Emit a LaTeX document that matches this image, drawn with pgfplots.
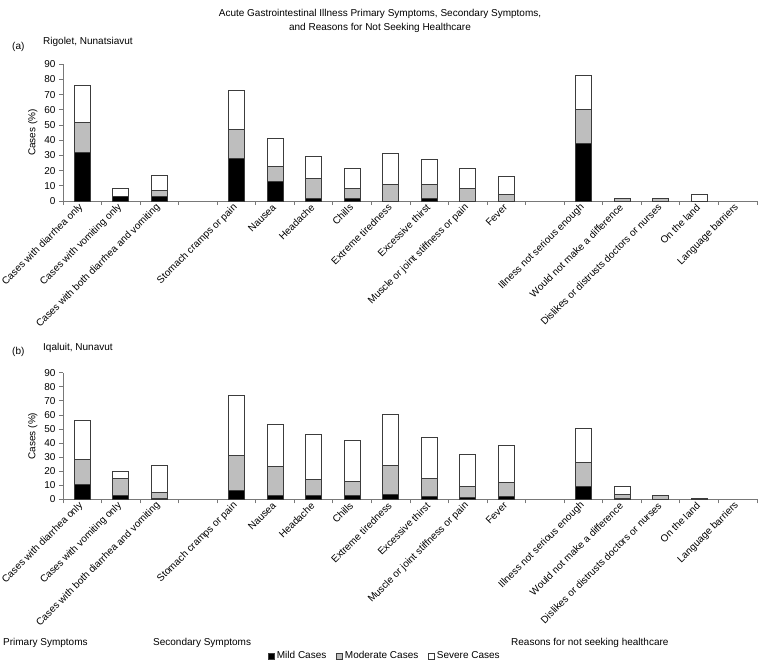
\documentclass[border=0pt]{standalone}
\usepackage{fontspec}
\setmainfont{Liberation Sans}
\usepackage{pgfplots}
\usepackage{pgfplotstable}
\pgfplotsset{compat=1.18}

\definecolor{modgray}{RGB}{190,190,190}
\definecolor{edgec}{RGB}{60,60,60}
\definecolor{axisc}{RGB}{120,120,120}

\pgfplotstableread{
x mild mod sev
0 32 20 24
1 3 0 5.5
2 3 4 9.5
4 28 19 26
5 13 10 18
6 1.5 13 14.5
7 1.5 6.5 13.5
8 0 11 20
9 1.5 9.5 16.5
10 0 8 13.5
11 0 4.5 11.5
13 38 22 22.5
14 0 1.5 0
15 0 1.5 0
16 0 0 4.5
}\toptable

\pgfplotstableread{
x mild mod sev
0 10.5 18 27.5
1 3 11.5 5.5
2 0.7 4.3 19
4 6 25 42.5
5 3 20 30.5
6 3 11 32
7 3 10 29
8 3.5 20.5 36.5
9 2 12.5 29.5
10 1 8 23
11 2 10 26
13 9 17 24.5
14 0.5 3 5.5
15 0 2.6 0
16 0 0 0.7
}\bottable

\pgfplotsset{
 gistyle/.style={
  scale only axis, width=694pt,
  xmin=-0.5, xmax=17.5, ymin=0, ymax=90,
  ybar stacked, bar width=16pt,
  axis lines=left, axis line style={draw=axisc, line width=0.8pt, -},
  ytick={0,10,...,90},
  xtick={0,1,2,4,5,6,7,8,9,10,11,13,14,15,16,17},
  xticklabels={Cases with diarrhea only, Cases with vomiting only, Cases with both diarrhea and vomiting, Stomach cramps or pain, Nausea, Headache, Chills, Extreme tiredness, Excessive thirst, Muscle or joint stiffness or pain, Fever, Illness not serious enough, Would not make a difference, Dislikes or distrusts doctors or nurses, On the land, Language barriers},
  major x tick style={draw=none},
  minor xtick={-0.5,0.5,...,17.5},
  minor x tick style={draw=axisc, line width=0.8pt},
  tick align=outside,
  tick style={draw=axisc, line width=0.8pt},
  major tick length=4pt, minor tick length=4pt,
  x tick label style={rotate=45, anchor=east, font=\fontsize{10}{12}\selectfont, inner sep=1pt},
  y tick label style={font=\fontsize{10}{12}\selectfont},
  ylabel={Cases (\%)},
  ylabel style={font=\fontsize{10}{12}\selectfont},
  every axis plot/.append style={draw=edgec, line width=1pt},
  /pgf/number format/assume math mode=true,
  legend image code/.code={\draw[#1, line width=0.6pt] (0pt,-3pt) rectangle (6pt,3pt);},
 }
}

\begin{document}
\begin{tikzpicture}
\useasboundingbox (0,0) rectangle (760pt,-664pt);
\tikzset{every node/.append style={font=\fontsize{10}{14}\selectfont}}

\node[align=center] at (380pt,-21pt) {Acute Gastrointestinal Illness Primary Symptoms, Secondary Symptoms,\\ and Reasons for Not Seeking Healthcare};
\node[anchor=west, inner sep=0pt] at (12pt,-47pt) {(a)};
\node[anchor=west, inner sep=0pt] at (43pt,-42pt) {Rigolet, Nunatsiavut};
\node[anchor=west, inner sep=0pt] at (12pt,-352pt) {(b)};
\node[anchor=west, inner sep=0pt] at (43pt,-348pt) {Iqaluit, Nunavut};
\node[anchor=west, inner sep=0pt] at (3pt,-643pt) {Primary Symptoms};
\node[anchor=west, inner sep=0pt] at (153pt,-643pt) {Secondary Symptoms};
\node[anchor=west, inner sep=0pt] at (511pt,-643pt) {Reasons for not seeking healthcare};

\begin{axis}[gistyle, height=136.7pt, at={(63pt,-201pt)}, anchor=south west]
\addplot[fill=black] table[x=x, y=mild]{\toptable};
\addplot[fill=modgray] table[x=x, y=mod]{\toptable};
\addplot[fill=white] table[x=x, y=sev]{\toptable};
\end{axis}

\begin{axis}[gistyle, height=126.6pt, at={(63pt,-499.3pt)}, anchor=south west,
  legend style={at={(axis description cs:0.464,-1.238)}, anchor=center, draw=none, fill=none,
    legend columns=3, font=\fontsize{10}{12}\selectfont, inner sep=0pt,
    /tikz/every even column/.append style={column sep=8pt}},
  legend cell align=left]
\addplot[fill=black] table[x=x, y=mild]{\bottable};
\addplot[fill=modgray] table[x=x, y=mod]{\bottable};
\addplot[fill=white] table[x=x, y=sev]{\bottable};
\legend{Mild Cases, Moderate Cases, Severe Cases}
\end{axis}
\end{tikzpicture}
\end{document}
